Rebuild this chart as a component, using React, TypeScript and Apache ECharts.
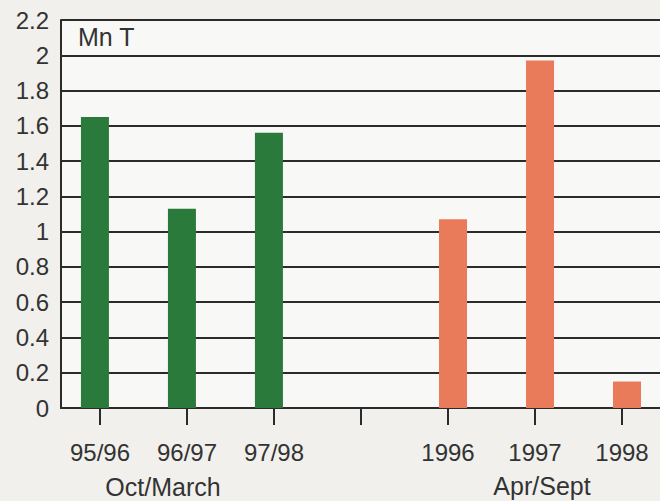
import React, { useEffect, useRef } from "react";
import * as echarts from "echarts";

const categories = ["95/96", "96/97", "97/98", "", "1996", "1997", "1998"];
const octMarchIdx = [0, 1, 2];
const octMarchValues = [1.65, 1.13, 1.56];
const aprSeptIdx = [4, 5, 6];
const aprSeptValues = [1.07, 1.97, 0.15];
const groupLabels = ["Oct/March", "Apr/Sept"];
const unitLabel = "Mn T";

const FONT = "'Liberation Sans', Arial, Helvetica, sans-serif";
const INK = "#2b2b2b";

export default function App() {
  const ref = useRef<HTMLDivElement>(null);
  useEffect(() => {
    if (!ref.current) return;
    const chart = echarts.init(ref.current, undefined, { renderer: "svg" });
    const tickVals = categories.map((_, i) => i);
    chart.setOption({
      animation: false,
      backgroundColor: "#f1f0ed",
      textStyle: { fontFamily: FONT },
      grid: {
        left: 61,
        right: 0,
        top: 20,
        bottom: 93,
        show: true,
        backgroundColor: "#f8f8f6",
        borderWidth: 0,
      },
      xAxis: {
        type: "value",
        min: -0.448,
        max: 6.437,
        splitLine: { show: false },
        axisLine: { show: true, onZero: false, lineStyle: { color: INK, width: 2 } },
        axisTick: {
          show: true,
          length: 17,
          customValues: tickVals,
          lineStyle: { color: INK, width: 2 },
        },
        axisLabel: {
          customValues: tickVals,
          margin: 32,
          fontSize: 24,
          color: "#333",
          fontFamily: FONT,
          formatter: (v: number) => categories[Math.round(v)] ?? "",
        },
      },
      yAxis: {
        type: "value",
        min: 0,
        max: 2.2,
        interval: 0.2,
        axisLine: { show: true, onZero: false, lineStyle: { color: INK, width: 2 } },
        axisTick: { show: false },
        splitLine: { show: true, lineStyle: { color: INK, width: 2 } },
        axisLabel: {
          margin: 12,
          fontSize: 24,
          color: "#333",
          fontFamily: FONT,
          formatter: (v: number) => String(parseFloat(v.toFixed(1))),
        },
      },
      series: [
        {
          type: "bar",
          name: groupLabels[0],
          barWidth: 28,
          barGap: "-64%",
          itemStyle: { color: "#2a7a3c" },
          data: octMarchIdx.map((x, i) => [x, octMarchValues[i]]),
        },
        {
          type: "bar",
          name: groupLabels[1],
          barWidth: 28,
          barGap: "-64%",
          itemStyle: { color: "#e97a5a" },
          data: aprSeptIdx.map((x, i) => [x, aprSeptValues[i]]),
        },
      ],
      graphic: [
        {
          type: "text",
          left: 78,
          top: 24,
          style: { text: unitLabel, fontSize: 25, fill: "#333", fontFamily: FONT },
        },
        {
          type: "text",
          x: 163,
          y: 487,
          style: {
            text: groupLabels[0],
            fontSize: 25,
            fill: "#333",
            fontFamily: FONT,
            align: "center",
            verticalAlign: "middle",
          },
        },
        {
          type: "text",
          x: 542,
          y: 486,
          style: {
            text: groupLabels[1],
            fontSize: 25,
            fill: "#333",
            fontFamily: FONT,
            align: "center",
            verticalAlign: "middle",
          },
        },
      ],
    });
    return () => chart.dispose();
  }, []);
  return (
    <div
      ref={ref}
      style={{ position: "fixed", left: 0, top: 0, width: 660, height: 501 }}
    />
  );
}
